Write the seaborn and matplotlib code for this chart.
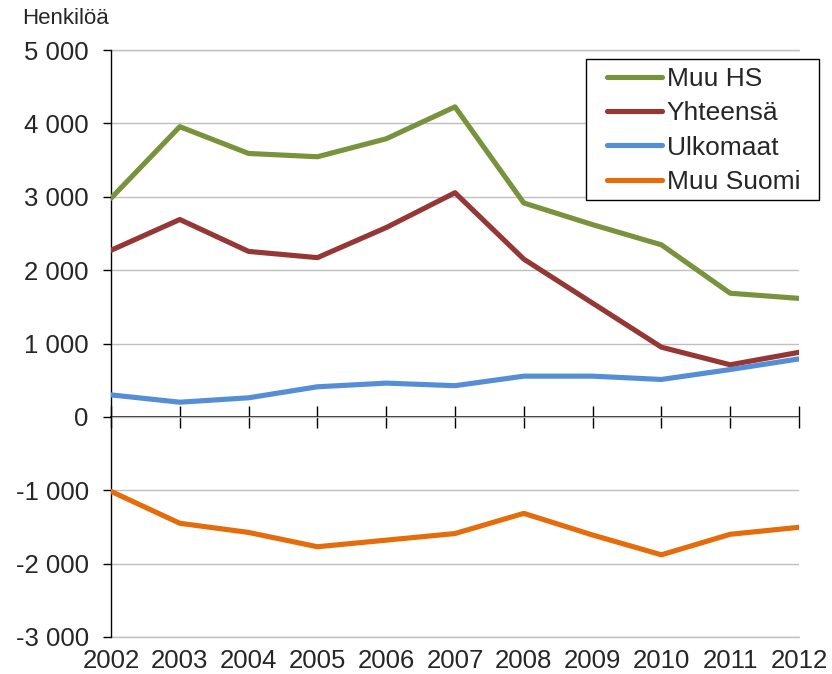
"""Net migration by region, 2002-2012."""

import matplotlib
matplotlib.use("Agg")
import matplotlib.pyplot as plt
import matplotlib.patches as mpatches
import matplotlib.ticker as mticker
import pandas as pd
import seaborn as sns

years = [2002, 2003, 2004, 2005, 2006, 2007, 2008, 2009, 2010, 2011, 2012]
muu_hs = [2980, 3955, 3590, 3545, 3790, 4225, 2915, 2620, 2345, 1685, 1615]
yhteensa = [2270, 2690, 2255, 2170, 2580, 3055, 2150, 1550, 950, 710, 880]
ulkomaat = [300, 200, 260, 410, 460, 425, 555, 555, 510, 645, 790]
muu_suomi = [-1015, -1450, -1575, -1770, -1680, -1590, -1315, -1610, -1880, -1600, -1505]

series = ["Muu HS", "Yhteensä", "Ulkomaat", "Muu Suomi"]
colors = ["#77933C", "#953735", "#558ED5", "#E46C0A"]

df = pd.DataFrame({
    "year": years * 4,
    "value": muu_hs + yhteensa + ulkomaat + muu_suomi,
    "series": [s for s in series for _ in years],
})

sns.set_style("white")
plt.rcParams["font.family"] = ["Liberation Sans", "DejaVu Sans"]

W, H = 832, 674
fig = plt.figure(figsize=(W / 100, H / 100), dpi=100)
ax = fig.add_axes([111 / W, 1 - 637 / H, 688 / W, 587 / H])

sns.lineplot(data=df, x="year", y="value", hue="series", hue_order=series,
             palette=colors, linewidth=3.7, ax=ax, legend=True, zorder=3)

ymin, ymax = -3000, 5000
ax.set_ylim(ymin, ymax)
ax.set_xlim(years[0], years[-1])
ax.set_yticks(range(ymin, ymax + 1, 1000))
ax.yaxis.set_major_formatter(
    mticker.FuncFormatter(lambda v, _: f"{int(v):,}".replace(",", " ")))
ax.set_xticks(years)
ax.set_xticklabels([str(y) for y in years])
ax.grid(axis="y", color="#BFBFBF", linewidth=1)
ax.set_axisbelow(True)
# edge gridlines are half clipped by the axes box, redraw them unclipped
for yv in (ymin, ymax):
    ax.axhline(yv, color="#BFBFBF", linewidth=1, clip_on=False, zorder=1)

for s in ["top", "right", "bottom"]:
    ax.spines[s].set_visible(False)
ax.spines["left"].set_color("black")
ax.spines["left"].set_linewidth(1)
ax.spines["left"].set_zorder(2)

ax.tick_params(axis="y", direction="out", length=6, width=1, color="black",
               labelsize=18.5, pad=10, left=True)
ax.tick_params(axis="x", length=0, labelsize=18.5, pad=9)
ax.set_xlabel("")
ax.set_ylabel("")

# zero axis with tick marks crossing it
zero_loc = (0 - ymin) / (ymax - ymin)
sec = ax.secondary_xaxis(zero_loc)
sec.set_xticks(years)
sec.tick_params(direction="inout", length=16, width=1, color="black",
                labelbottom=False)
sec.spines["bottom"].set_color("black")
sec.spines["bottom"].set_linewidth(1.2)

fig.text(22 / W, 1 - 18 / H, "Henkilöä", fontsize=16, va="center", ha="left")

# legend box drawn separately so the padding can differ per side
box = mpatches.Rectangle((586 / W, 1 - 200 / H), 233 / W, 141 / H,
                         transform=fig.transFigure, facecolor="white",
                         edgecolor="black", linewidth=1, clip_on=False, zorder=4)
ax.add_patch(box)

handles, labels = ax.get_legend_handles_labels()
leg = ax.legend(handles, labels, loc="upper left",
                bbox_to_anchor=(607 / W, 1 - 67 / H),
                bbox_transform=fig.transFigure, borderaxespad=0, borderpad=0,
                fontsize=19, frameon=False,
                handlelength=2.08, handletextpad=0.19, labelspacing=0.39)
leg.set_zorder(5)
for line in leg.get_lines():
    line.set_linewidth(3.7)
    line.set_solid_capstyle("round")

fig.savefig("out.png", dpi=100)
plt.close(fig)
